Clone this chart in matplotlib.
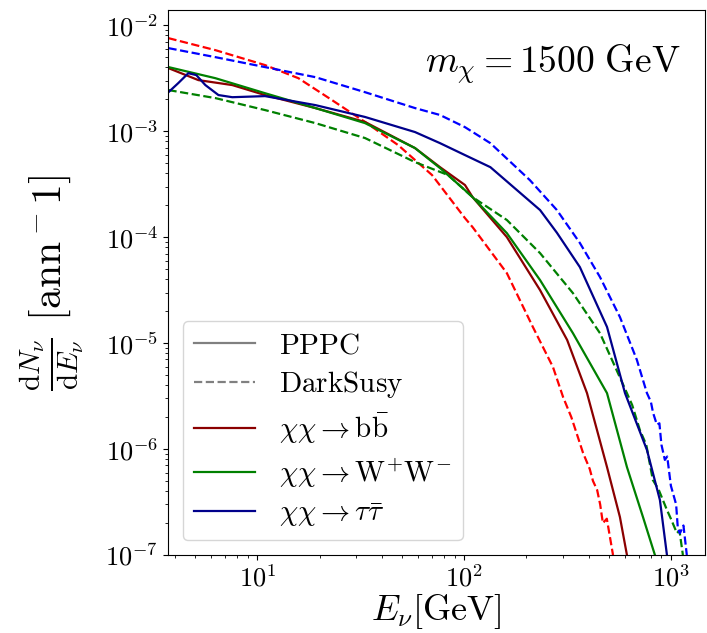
import matplotlib
matplotlib.use('Agg')
import matplotlib.pyplot as plt

plt.rcParams['mathtext.fontset'] = 'cm'
plt.rcParams['font.family'] = 'serif'
plt.rcParams['font.serif'] = ['cmr10', 'DejaVu Serif']
plt.rcParams['axes.formatter.use_mathtext'] = True

# PPPC spectra (solid)
E_bb_pppc = [3.72, 5.19, 7.57, 10.9, 19.1, 33.2, 57.9, 76.5, 101, 110, 161, 233, 315, 393, 491, 567, 613]
dN_bb_pppc = [3.93e-3, 3.03e-3, 2.72e-3, 2.19e-3, 1.65e-3, 1.22e-3, 6.92e-4, 4.57e-4, 3.10e-4, 2.38e-4,
              1.0e-4, 3.16e-5, 1.07e-5, 3.37e-6, 6.76e-7, 2.28e-7, 1.0e-7]

E_ww_pppc = [3.72, 6.27, 10.9, 19.1, 33.2, 57.9, 76.5, 101, 110, 161, 233, 336, 491, 613, 733, 837]
dN_ww_pppc = [4.02e-3, 3.16e-3, 2.28e-3, 1.65e-3, 1.19e-3, 6.92e-4, 4.48e-4, 2.77e-4, 2.38e-4, 1.09e-4,
              3.93e-5, 1.24e-5, 3.37e-6, 6.76e-7, 2.28e-7, 1.0e-7]

E_tt_pppc = [3.72, 4.15, 4.64, 5.07, 5.61, 6.49, 7.57, 10.9, 19.1, 33.2, 57.9, 76.5, 101, 134, 233,
             281, 363, 491, 600, 766, 885, 957]
dN_tt_pppc = [2.33e-3, 2.84e-3, 3.52e-3, 3.38e-3, 2.72e-3, 2.19e-3, 2.09e-3, 2.14e-3, 1.76e-3, 1.36e-3,
              9.8e-4, 7.7e-4, 5.94e-4, 4.57e-4, 1.80e-4, 1.1e-4, 5.21e-5, 1.42e-5, 3.37e-6, 9.8e-7,
              3.3e-7, 1.0e-7]

# DarkSusy spectra (dashed)
E_bb_ds = [3.72, 6.27, 10.9, 15.8, 23.0, 33.2, 48.0, 70.0, 101, 110, 161, 215, 269, 301, 330, 376,
           405, 420, 440, 455, 469, 490, 525]
dN_bb_ds = [7.54e-3, 5.81e-3, 4.20e-3, 3.16e-3, 1.96e-3, 1.22e-3, 7.38e-4, 3.85e-4, 1.51e-4, 1.24e-4,
            4.57e-5, 1.42e-5, 5.94e-6, 3.10e-6, 2.0e-6, 9.2e-7, 6.5e-7, 5.0e-7, 4.1e-7, 3.0e-7,
            2.0e-7, 2.2e-7, 1.0e-7]

E_ww_ds = [3.72, 6.27, 10.9, 19.1, 33.2, 57.9, 83.7, 110, 161, 233, 336, 454, 613, 650, 708, 760,
           818, 870, 957, 1000, 1069, 1100, 1143]
dN_ww_ds = [2.44e-3, 2.05e-3, 1.58e-3, 1.19e-3, 8.6e-4, 5.10e-4, 3.85e-4, 2.38e-4, 1.45e-4, 7.06e-5,
            2.96e-5, 1.24e-5, 3.37e-6, 2.6e-6, 1.51e-6, 1.1e-6, 5.1e-7, 4.2e-7, 2.66e-7, 2.2e-7,
            1.61e-7, 1.7e-7, 1.0e-7]

E_tt_ds = [3.72, 6.27, 10.9, 19.1, 33.2, 57.9, 76.5, 101, 134, 208, 281, 363, 454, 567, 685, 766,
           800, 820, 855, 880, 900, 935, 960, 1000, 1023, 1060, 1080, 1105, 1150, 1194]
dN_tt_ds = [6.07e-3, 4.99e-3, 4.02e-3, 3.23e-3, 2.33e-3, 1.65e-3, 1.42e-3, 1.09e-3, 7.7e-4, 3.45e-4,
            1.80e-4, 8.8e-5, 4.2e-5, 1.76e-5, 6.92e-6, 3.37e-6, 2.8e-6, 2.2e-6, 1.7e-6, 1.75e-6,
            1.1e-6, 7.9e-7, 8.5e-7, 4.5e-7, 3.85e-7, 3.0e-7, 1.8e-7, 1.6e-7, 1.9e-7, 1.0e-7]

fig = plt.figure(figsize=(7.07, 6.33), dpi=100)
ax = fig.add_axes([0.2376, 0.1232, 0.7594, 0.861])

lw = 1.6
ax.plot(E_bb_ds, dN_bb_ds, '--', color='red', lw=lw)
ax.plot(E_ww_ds, dN_ww_ds, '--', color='green', lw=lw)
ax.plot(E_tt_ds, dN_tt_ds, '--', color='blue', lw=lw)
ax.plot(E_bb_pppc, dN_bb_pppc, '-', color='#8b0000', lw=lw)
ax.plot(E_ww_pppc, dN_ww_pppc, '-', color='green', lw=lw)
ax.plot(E_tt_pppc, dN_tt_pppc, '-', color='#00008b', lw=lw)

# legend proxies
ax.plot([], [], '-', color='gray', lw=lw, label=r'$\mathrm{PPPC}$')
ax.plot([], [], '--', color='gray', lw=lw, label=r'$\mathrm{DarkSusy}$')
ax.plot([], [], '-', color='#8b0000', lw=lw, label=r'$\chi\chi \rightarrow \mathrm{b}\bar{\mathrm{b}}$')
ax.plot([], [], '-', color='green', lw=lw, label=r'$\chi\chi \rightarrow \mathrm{W}^{+}\mathrm{W}^{-}$')
ax.plot([], [], '-', color='#00008b', lw=lw, label=r'$\chi\chi \rightarrow \tau\bar{\tau}$')

ax.set_xscale('log')
ax.set_yscale('log')
ax.set_xlim(3.7, 1460)
ax.set_ylim(1e-7, 1.39e-2)

ax.set_xlabel(r'$E_\nu[\mathrm{GeV}]$', fontsize=26)
ax.xaxis.set_label_coords(0.5, -0.067)
ax.set_ylabel(r'$\frac{\mathrm{d}N_\nu}{\mathrm{d}E_\nu}$ $[\mathrm{ann}^-1]$', fontsize=30, labelpad=14)
ax.tick_params(labelsize=19)

ax.text(0.955, 0.9, r'$m_\chi = 1500\ \mathrm{GeV}$', transform=ax.transAxes,
        fontsize=27, ha='right', va='center')

ax.legend(loc='lower left', fontsize=21, handlelength=2.1, labelspacing=0.35)

fig.savefig('out.png', dpi=100)
